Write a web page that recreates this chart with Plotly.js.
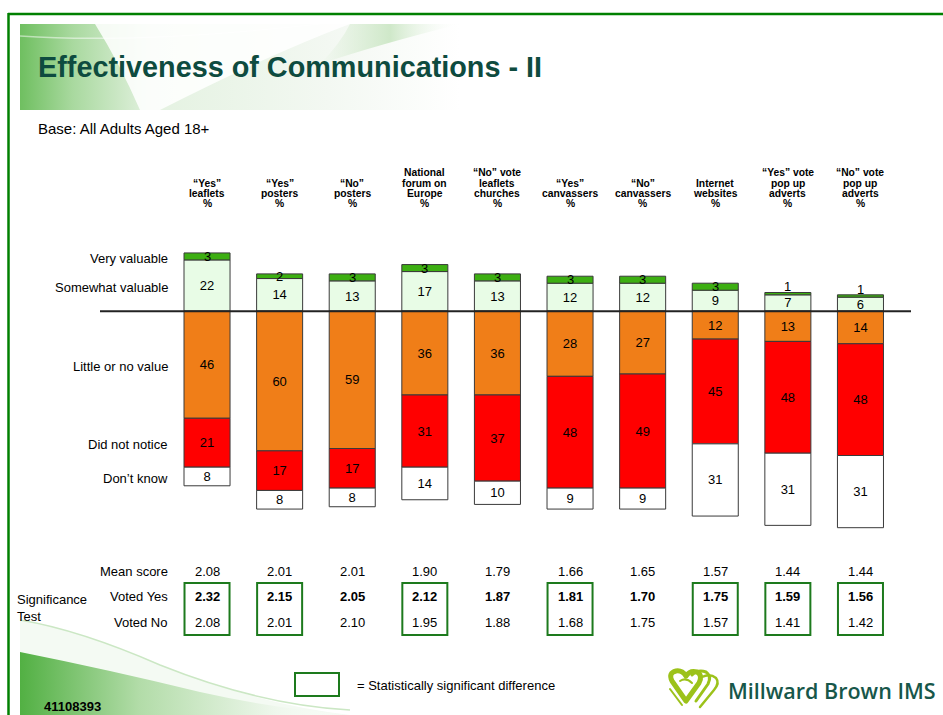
<!DOCTYPE html>
<html>
<head>
<meta charset="utf-8">
<script src="https://cdn.plot.ly/plotly-3.0.1.min.js"></script>
<style>html,body{margin:0;padding:0;background:#fff;}#chart{width:943px;height:715px;}</style>
</head>
<body>
<div id="chart"></div>
<script>
// ---------- data ----------
const categoryLines = [
  ['“Yes”', 'leaflets', '%'],
  ['“Yes”', 'posters', '%'],
  ['“No”', 'posters', '%'],
  ['National', 'forum on', 'Europe', '%'],
  ['“No” vote', 'leaflets', 'churches', '%'],
  ['“Yes”', 'canvassers', '%'],
  ['“No”', 'canvassers', '%'],
  ['Internet', 'websites', '%'],
  ['“Yes” vote', 'pop up', 'adverts', '%'],
  ['“No” vote', 'pop up', 'adverts', '%']
];
const veryValuable     = [3, 2, 3, 3, 3, 3, 3, 3, 1, 1];
const somewhatValuable = [22, 14, 13, 17, 13, 12, 12, 9, 7, 6];
const littleNoValue    = [46, 60, 59, 36, 36, 28, 27, 12, 13, 14];
const didNotNotice     = [21, 17, 17, 31, 37, 48, 49, 45, 48, 48];
const dontKnow         = [8, 8, 8, 14, 10, 9, 9, 31, 31, 31];
const meanScore = [2.08, 2.01, 2.01, 1.90, 1.79, 1.66, 1.65, 1.57, 1.44, 1.44];
const votedYes  = [2.32, 2.15, 2.05, 2.12, 1.87, 1.81, 1.70, 1.75, 1.59, 1.56];
const votedNo   = [2.08, 2.01, 2.10, 1.95, 1.88, 1.68, 1.75, 1.57, 1.41, 1.42];
const significant = [true, true, false, true, false, true, false, true, true, true];
const seriesNames = ['Very valuable', 'Somewhat valuable', 'Little or no value', 'Did not notice', 'Don’t know'];

// ---------- geometry helpers ----------
const FW = 943, FH = 715;
const ML = 100, MR = 32, MT = 218, MB = 171;
const PW = FW - ML - MR, PH = FH - MT - MB;
const PX = x => (x - ML) / PW;
const PY = y => (MT + PH - y) / PH;
const FONT = 'Liberation Sans, Arial, sans-serif';
const idx = categoryLines.map((_, i) => i);

function barTrace(name, vals, sign, color, showText) {
  return {
    type: 'bar', name: name, x: idx, y: vals.map(v => sign * v),
    text: showText ? vals.map(v => String(v)) : undefined,
    textposition: showText ? 'inside' : 'none', insidetextanchor: 'middle', textangle: 0,
    constraintext: 'none',
    insidetextfont: {family: FONT, size: 13, color: '#000'},
    marker: {color: color, line: {color: '#3a3a3a', width: 1}},
    width: 0.634, hoverinfo: 'skip', showlegend: false
  };
}
const traces = [
  barTrace(seriesNames[1], somewhatValuable, 1, '#e8fce6', true),
  barTrace(seriesNames[0], veryValuable, 1, '#3daf12', false),
  barTrace(seriesNames[2], littleNoValue, -1, '#f07e18', true),
  barTrace(seriesNames[3], didNotNotice, -1, '#ff0000', true),
  barTrace(seriesNames[4], dontKnow, -1, '#ffffff', true)
];

const ann = [];
// "very valuable" value labels (thin segments: label straddles the segment like the original)
veryValuable.forEach((v, i) => {
  ann.push({xref: 'x', yref: 'y', x: i, y: somewhatValuable[i] + v / 2, yshift: v < 2 ? 7 : 0,
    xanchor: 'center', yanchor: 'middle', text: String(v), showarrow: false,
    font: {family: FONT, size: 13, color: '#000'}});
});
// title and subtitle
ann.push({xref: 'paper', yref: 'paper', x: PX(36), y: PY(67), xanchor: 'left', yanchor: 'middle',
  text: '<b>Effectiveness of Communications - II</b>', showarrow: false,
  font: {family: FONT, size: 28.8, color: '#0e4b3f'}});
ann.push({xref: 'paper', yref: 'paper', x: PX(36), y: PY(128), xanchor: 'left', yanchor: 'middle',
  text: 'Base: All Adults Aged 18+', showarrow: false, font: {family: FONT, size: 15, color: '#000'}});
// category header labels
categoryLines.forEach((lines, i) => {
  const n = lines.length;
  lines.forEach((t, j) => {
    ann.push({xref: 'x', yref: 'paper', x: i, y: PY(203 - (n - 1 - j) * 10), xanchor: 'center', yanchor: 'middle',
      text: '<b>' + t + '</b>', showarrow: false, font: {family: FONT, size: 10.3, color: '#000'}});
  });
});
// row labels aligned with first bar's segments
const rowY = [
  somewhatValuable[0] + veryValuable[0] / 2,
  somewhatValuable[0] / 2,
  -littleNoValue[0] / 2,
  -littleNoValue[0] - didNotNotice[0] / 2,
  -littleNoValue[0] - didNotNotice[0] - dontKnow[0] / 2
];
seriesNames.forEach((nm, k) => {
  ann.push({xref: 'paper', yref: 'y', x: PX(170), y: rowY[k], yshift: -2, xanchor: 'right', yanchor: 'middle',
    text: nm, showarrow: false, font: {family: FONT, size: 13, color: '#000'}});
});
// table
const rows = [
  {label: 'Mean score', vals: meanScore, py: 571, bold: false},
  {label: 'Voted Yes', vals: votedYes, py: 596, bold: true},
  {label: 'Voted No', vals: votedNo, py: 622, bold: false}
];
rows.forEach(r => {
  ann.push({xref: 'paper', yref: 'paper', x: PX(170), y: PY(r.py), xanchor: 'right', yanchor: 'middle',
    text: r.label, showarrow: false, font: {family: FONT, size: 13, color: '#000'}});
  r.vals.forEach((v, i) => {
    const s = v.toFixed(2);
    ann.push({xref: 'x', yref: 'paper', x: i, y: PY(r.py), xanchor: 'center', yanchor: 'middle',
      text: r.bold ? '<b>' + s + '</b>' : s, showarrow: false, font: {family: FONT, size: 13, color: '#000'}});
  });
});
ann.push({xref: 'paper', yref: 'paper', x: PX(15), y: PY(608), xanchor: 'left', yanchor: 'middle', align: 'left',
  text: 'Significance<br>Test', showarrow: false, font: {family: FONT, size: 13, color: '#000'}});
ann.push({xref: 'paper', yref: 'paper', x: PX(355), y: PY(685), xanchor: 'left', yanchor: 'middle',
  text: '= Statistically significant difference', showarrow: false, font: {family: FONT, size: 13, color: '#000'}});
ann.push({xref: 'paper', yref: 'paper', x: PX(42), y: PY(706), xanchor: 'left', yanchor: 'middle',
  text: '<b>41108393</b>', showarrow: false, font: {family: FONT, size: 13, color: '#000'}});
ann.push({xref: 'paper', yref: 'paper', x: PX(726), y: PY(690), xanchor: 'left', yanchor: 'middle',
  text: 'Millward Brown IMS', showarrow: false, font: {family: 'Open Sans, Noto Sans, sans-serif', size: 21.5, weight: 600, color: '#17574a'}});

// shapes
const shapes = [];
shapes.push({type: 'line', xref: 'paper', yref: 'paper', x0: PX(8), x1: PX(943), y0: PY(14), y1: PY(14), line: {color: '#008000', width: 2.5}});
shapes.push({type: 'line', xref: 'paper', yref: 'paper', x0: PX(8.5), x1: PX(8.5), y0: PY(13), y1: PY(715), line: {color: '#008000', width: 2.5}});
shapes.push({type: 'line', xref: 'x', yref: 'y', x0: -1.474, x1: 9.696, y0: 0, y1: 0, line: {color: '#222', width: 2}, layer: 'above'});
significant.forEach((s, i) => {
  if (s) shapes.push({type: 'rect', xref: 'x', yref: 'paper', x0: i - 0.31, x1: i + 0.31, y0: PY(635), y1: PY(583),
    line: {color: '#1d7a1d', width: 2}});
});
shapes.push({type: 'rect', xref: 'paper', yref: 'paper', x0: PX(295), x1: PX(339), y0: PY(696), y1: PY(673),
  line: {color: '#1d7a1d', width: 2}});

// decorative images (inline SVG)
const bannerSvg = `<svg xmlns="http://www.w3.org/2000/svg" width="440" height="86" viewBox="0 0 440 86">
<defs><linearGradient id="g" x1="0" y1="0" x2="1" y2="0">
<stop offset="0" stop-color="#6fbf60"/><stop offset="0.12" stop-color="#a9d99f"/>
<stop offset="0.3" stop-color="#e4f2e1"/><stop offset="0.7" stop-color="#f3f8f2"/><stop offset="1" stop-color="#ffffff"/></linearGradient>
<linearGradient id="h" x1="0" y1="0" x2="1" y2="0"><stop offset="0" stop-color="#cfe8c9" stop-opacity="0"/><stop offset="0.5" stop-color="#cfe8c9"/><stop offset="1" stop-color="#ffffff" stop-opacity="0"/></linearGradient></defs>
<rect width="440" height="86" fill="url(#g)"/>
<path d="M75 0 L330 0 Q250 30 140 86 L120 86 Q100 40 75 0 Z" fill="#ffffff" fill-opacity="0.85"/>
<path d="M330 0 L440 0 Q360 20 300 40 Q320 20 330 0 Z" fill="url(#h)"/>
<path d="M0 12 Q120 20 300 0" stroke="#ffffff" stroke-opacity="0.5" fill="none" stroke-width="1.5"/>
</svg>`;
const swooshSvg = `<svg xmlns="http://www.w3.org/2000/svg" width="340" height="105" viewBox="0 0 340 105">
<defs><linearGradient id="s" x1="0" y1="0" x2="1" y2="0">
<stop offset="0" stop-color="#52b043"/><stop offset="0.35" stop-color="#b2dca8"/><stop offset="0.75" stop-color="#eef7ec"/><stop offset="1" stop-color="#ffffff" stop-opacity="0"/></linearGradient></defs>
<path d="M0 10 Q60 20 140 55 Q240 95 330 105 L0 105 Z" fill="#f4faf3"/>
<path d="M0 42 Q90 60 180 82 Q260 100 340 105 L0 105 Z" fill="url(#s)"/>
<path d="M0 10 Q60 20 140 55 Q240 95 330 100" stroke="#cbe7c4" fill="none" stroke-width="1.5"/>
</svg>`;
const logoSvg = `<svg xmlns="http://www.w3.org/2000/svg" width="56" height="46" viewBox="0 0 56 46">
<g fill="none" stroke="#9cc21a" stroke-linecap="round" stroke-linejoin="round">
<path d="M6 14 Q2 6 10 4 Q16 3 20 9 Q24 3 31 5 Q37 8 33 16 L20 34 Z" stroke-width="5"/>
<path d="M26 8 Q32 2 40 5 Q46 9 42 17 L30 34" stroke-width="3"/>
<path d="M36 10 Q44 6 50 11 Q54 16 48 23 L34 40" stroke-width="2.5"/>
<path d="M14 14 Q20 10 26 16" stroke-width="2"/>
<path d="M4 22 L16 38" stroke-width="2"/>
</g></svg>`;
const uri = s => 'data:image/svg+xml;charset=utf-8,' + encodeURIComponent(s);
const images = [
  {source: uri(bannerSvg), xref: 'paper', yref: 'paper', x: PX(20), y: PY(24), sizex: 440 / PW, sizey: 86 / PH,
    xanchor: 'left', yanchor: 'top', sizing: 'stretch', layer: 'below'},
  {source: uri(swooshSvg), xref: 'paper', yref: 'paper', x: PX(20), y: PY(610), sizex: 340 / PW, sizey: 105 / PH,
    xanchor: 'left', yanchor: 'top', sizing: 'stretch', layer: 'below'},
  {source: uri(logoSvg), xref: 'paper', yref: 'paper', x: PX(666), y: PY(667), sizex: 56 / PW, sizey: 46 / PH,
    xanchor: 'left', yanchor: 'top', sizing: 'stretch', layer: 'below'}
];

const layout = {
  width: FW, height: FH,
  margin: {l: ML, r: MR, t: MT, b: MB, pad: 0},
  paper_bgcolor: '#ffffff', plot_bgcolor: 'rgba(0,0,0,0)',
  barmode: 'relative', bargap: 0,
  xaxis: {type: 'linear', range: [-1.474, 9.696], visible: false, fixedrange: true},
  yaxis: {range: [-100, 40], visible: false, fixedrange: true},
  annotations: ann, shapes: shapes, images: images, showlegend: false,
  font: {family: FONT}
};
Plotly.newPlot('chart', traces, layout, {staticPlot: true, displayModeBar: false});
</script>
</body>
</html>
